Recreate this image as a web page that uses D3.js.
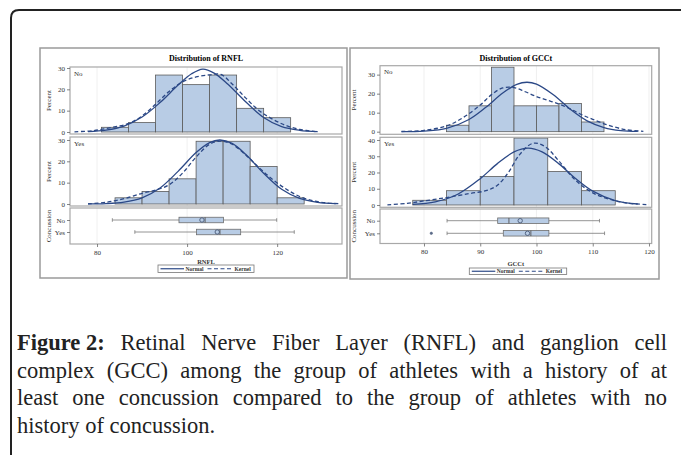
<!DOCTYPE html>
<html>
<head>
<meta charset="utf-8">
<script src="https://cdn.jsdelivr.net/npm/d3@7"></script>
<style>
  body { margin: 0; background: #fff; }
  svg { display: block; }
</style>
</head>
<body>
<svg id="chart" width="681" height="455"></svg>
<script>
// ---- data ----
// histogram percents (bins start at *Start, fixed width)
var rnflNoPct = [2.2, 4.4, 26.7, 22.2, 26.7, 11.1, 6.7];
var rnflNoStart = 81, rnflNoWidth = 6;
var rnflYesPct = [2.9, 5.9, 11.8, 29.4, 29.4, 17.6, 2.9];
var rnflYesStart = 84, rnflYesWidth = 6;
var gccNoPct = [3.4, 13.6, 33.9, 13.6, 13.6, 14.8, 5.1];
var gccNoStart = 84, gccNoWidth = 4;
var gccYesPct = [2.9, 8.8, 17.6, 41.2, 20.6, 8.8];
var gccYesStart = 78, gccYesWidth = 6;

// density curves [value, percent]
var rnflNoNormal = [[78,0.2],[82,0.9],[86,2.8],[90,7.0],[94,13.8],[98,22.0],[101,27.3],[103.5,29.5],[106,27.6],[109,22.5],[113,14.2],[117,6.8],[121,2.5],[125,0.8],[129,0.2]];
var rnflNoKernel = [[75,0.1],[79,0.6],[83,2.0],[87,4.0],[90,7.5],[93,13.0],[96,19.0],[99,23.5],[102,25.8],[105,26.8],[107.5,27.0],[110,22.5],[113,16.0],[116,10.0],[119,6.0],[122,3.0],[125,1.2],[128.5,0.2]];
var rnflYesNormal = [[78,0.05],[82,0.2],[86,0.9],[90,2.9],[94,7.5],[98,15.3],[102,24.1],[105,28.8],[107.3,30],[110,28.4],[113,23.3],[117,14.4],[121,6.9],[125,2.6],[129,0.8],[133,0.2]];
var rnflYesKernel = [[78,0.1],[82,0.8],[86,2.5],[90,5.0],[93,6.5],[96,9.0],[99,14.5],[102,22.0],[105,28.0],[107.5,29.5],[110,28.0],[113,23.0],[116,17.0],[119,11.5],[122,7.0],[125,3.5],[128,1.5],[131,0.5],[134,0.1]];
var gccNoNormal = [[76,0.03],[80,0.3],[84,1.7],[88,6.4],[91,12.8],[94,20.3],[96.5,24.9],[98.3,26],[100,25.0],[103,19.4],[106,11.8],[109,5.7],[112,2.2],[115,0.6],[118,0.15]];
var gccNoKernel = [[76,0.1],[80,0.7],[84,3.0],[87,7.5],[90,14.0],[92,19.5],[94,23.0],[96,23.2],[98,21.0],[100,18.5],[102,16.5],[104,14.5],[106,12.0],[108,9.0],[110,6.5],[113,3.2],[116,1.0],[119,0.2]];
var gccYesNormal = [[78,0.4],[82,1.9],[86,6.6],[90,16.2],[93,25.3],[96,32.7],[98.5,35],[101,32.7],[104,25.3],[107,16.1],[110,8.5],[114,2.7],[118,0.6]];
var gccYesKernel = [[73.5,0.1],[77,1.0],[80,2.5],[84,4.6],[88,7.0],[91,8.8],[93,12.0],[95,20.0],[97,31.0],[99.4,38.0],[101.5,36.0],[104,27.0],[107,15.0],[110,7.5],[113,3.5],[116,1.2],[120,0.2]];

// box plots: min, q1, median, q3, max, mean
var groups = ["No", "Yes"];
var rnflBox = [[83.4, 98.2, 104, 108.1, 119.9, 103.3], [88.4, 102.1, 107.3, 111.9, 123.8, 106.7]];
var gccBox = [[84.1, 93.1, 95.1, 102.2, 111.2, 97.1], [84.1, 94.1, 99.0, 102.2, 112.1, 98.4]];
var gccOutliers = [[], [81.3]];

var rnflTicks = [80, 100, 120];
var gccTicks = [80, 90, 100, 110, 120];
var pctTicks = [0, 10, 20, 30];
var pctTicks40 = [0, 10, 20, 30, 40];

var captionLines = [
  ["Retinal", "Nerve", "Fiber", "Layer", "(RNFL)", "and", "ganglion", "cell"],
  ["complex", "(GCC)", "among", "the", "group", "of", "athletes", "with", "a", "history", "of", "at"],
  ["least", "one", "concussion", "compared", "to", "the", "group", "of", "athletes", "with", "no"],
  ["history", "of", "concussion."]
];

// ---- drawing ----
var svg = d3.select("#chart");
var FONT = "'Liberation Serif', 'DejaVu Serif', serif";
var BAR_FILL = "#b8cce5";
var CURVE = "#2b4886";

// outer figure frame
svg.append("path")
  .attr("d", "M11,455 L11,18 Q11,10 19,10 L681,10")
  .attr("fill", "none")
  .attr("stroke", "#222")
  .attr("stroke-width", 2);

function styleAxis(g) {
  g.select(".domain").remove();
  g.selectAll(".tick line").attr("stroke", "#666").attr("stroke-width", 0.8);
  g.selectAll(".tick text").attr("fill", "#333").style("font-family", FONT).style("font-size", "7px");
}

function drawPanel(p) {
  var g = svg.append("g");
  g.append("rect")
    .attr("x", p.box[0]).attr("y", p.box[1]).attr("width", p.box[2]).attr("height", p.box[3])
    .attr("fill", "#fff").attr("stroke", "#9a9a9a").attr("stroke-width", 1.5);

  g.append("text")
    .attr("x", (p.left + p.right) / 2).attr("y", p.titleY)
    .attr("text-anchor", "middle")
    .style("font-family", FONT).style("font-size", "8px").style("font-weight", "bold")
    .text(p.title);

  var x = d3.scaleLinear().domain(p.xDomain).range([p.left, p.right]);

  p.cells.forEach(function (c) {
    var y = d3.scaleLinear().domain(c.yDomain).range([c.bottom, c.top]);
    var cg = g.append("g");

    // grid
    cg.selectAll("line.grid").data(p.xTicks).enter().append("line")
      .attr("x1", d => x(d)).attr("x2", d => x(d))
      .attr("y1", c.top).attr("y2", c.bottom)
      .attr("stroke", "#ececec").attr("stroke-width", 0.8);

    // bars
    cg.selectAll("rect.bar").data(c.pct).enter().append("rect")
      .attr("x", (d, i) => x(c.start + i * c.width))
      .attr("width", (d, i) => x(c.start + (i + 1) * c.width) - x(c.start + i * c.width))
      .attr("y", d => y(d))
      .attr("height", d => y(0) - y(d))
      .attr("fill", BAR_FILL)
      .attr("stroke", "#5b5b5b")
      .attr("stroke-width", 0.8);

    var line = d3.line()
      .x(d => x(d[0])).y(d => y(d[1]))
      .curve(d3.curveCatmullRom);

    cg.append("path").datum(c.normal)
      .attr("d", line).attr("fill", "none")
      .attr("stroke", CURVE).attr("stroke-width", 1.3);
    cg.append("path").datum(c.kernel)
      .attr("d", line).attr("fill", "none")
      .attr("stroke", CURVE).attr("stroke-width", 1.3)
      .attr("stroke-dasharray", "4,2.5");

    cg.append("rect")
      .attr("x", p.left).attr("y", c.top)
      .attr("width", p.right - p.left).attr("height", c.bottom - c.top)
      .attr("fill", "none").attr("stroke", "#a8a8a8").attr("stroke-width", 1.2);

    cg.append("text")
      .attr("x", p.left + 4).attr("y", c.top + 8.5)
      .style("font-family", FONT).style("font-size", "7px").attr("fill", "#333")
      .text(c.label);

    cg.append("g")
      .attr("transform", "translate(" + p.left + ",0)")
      .call(d3.axisLeft(y).tickValues(c.ticks).tickSize(3).tickPadding(2))
      .call(styleAxis);

    cg.append("text")
      .attr("transform", "translate(" + p.yLabelX + "," + ((c.top + c.bottom) / 2) + ") rotate(-90)")
      .attr("text-anchor", "middle")
      .style("font-family", FONT).style("font-size", "7px").attr("fill", "#333")
      .text("Percent");
  });

  // box plot cell
  var b = p.boxCell;
  var yb = d3.scalePoint().domain(groups).range([b.rowNo, b.rowYes]);
  var bg = g.append("g");
  bg.selectAll("line.grid").data(p.xTicks).enter().append("line")
    .attr("x1", d => x(d)).attr("x2", d => x(d))
    .attr("y1", b.top).attr("y2", b.bottom)
    .attr("stroke", "#ececec").attr("stroke-width", 0.8);

  p.boxes.forEach(function (s, i) {
    var cy = yb(groups[i]);
    var h = 5.5;
    bg.append("line").attr("x1", x(s[0])).attr("x2", x(s[1])).attr("y1", cy).attr("y2", cy)
      .attr("stroke", "#7a7a7a").attr("stroke-width", 0.8);
    bg.append("line").attr("x1", x(s[3])).attr("x2", x(s[4])).attr("y1", cy).attr("y2", cy)
      .attr("stroke", "#7a7a7a").attr("stroke-width", 0.8);
    [s[0], s[4]].forEach(function (v) {
      bg.append("line").attr("x1", x(v)).attr("x2", x(v)).attr("y1", cy - 1.8).attr("y2", cy + 1.8)
        .attr("stroke", "#7a7a7a").attr("stroke-width", 0.8);
    });
    bg.append("rect").attr("x", x(s[1])).attr("y", cy - h / 2)
      .attr("width", x(s[3]) - x(s[1])).attr("height", h)
      .attr("fill", BAR_FILL).attr("stroke", "#6d6d6d").attr("stroke-width", 0.8);
    bg.append("line").attr("x1", x(s[2])).attr("x2", x(s[2])).attr("y1", cy - h / 2).attr("y2", cy + h / 2)
      .attr("stroke", "#555").attr("stroke-width", 0.9);
    bg.append("circle").attr("cx", x(s[5])).attr("cy", cy).attr("r", 2.2)
      .attr("fill", "none").attr("stroke", "#4a5a78").attr("stroke-width", 0.9);
    (p.outliers ? p.outliers[i] : []).forEach(function (v) {
      bg.append("circle").attr("cx", x(v)).attr("cy", cy).attr("r", 1.2)
        .attr("fill", "#5a6a88").attr("stroke", "#5a6a88").attr("stroke-width", 0.6);
    });
  });

  bg.append("rect")
    .attr("x", p.left).attr("y", b.top)
    .attr("width", p.right - p.left).attr("height", b.bottom - b.top)
    .attr("fill", "none").attr("stroke", "#a8a8a8").attr("stroke-width", 1.2);

  bg.append("g")
    .attr("transform", "translate(" + p.left + ",0)")
    .call(d3.axisLeft(yb).tickSize(3).tickPadding(2))
    .call(styleAxis);

  bg.append("text")
    .attr("transform", "translate(" + p.yLabelX + "," + ((b.top + b.bottom) / 2) + ") rotate(-90)")
    .attr("text-anchor", "middle")
    .style("font-family", FONT).style("font-size", "7px").attr("fill", "#333")
    .text("Concussion");

  g.append("g")
    .attr("transform", "translate(0," + b.bottom + ")")
    .call(d3.axisBottom(x).tickValues(p.xTicks).tickSize(3).tickPadding(3))
    .call(styleAxis);

  g.append("text")
    .attr("x", (p.left + p.right) / 2).attr("y", p.xLabelY)
    .attr("text-anchor", "middle")
    .style("font-family", FONT).style("font-size", "6.5px").style("font-weight", "bold").attr("fill", "#333")
    .text(p.xLabel);

  // legend
  var L = p.legend;
  var lg = g.append("g");
  lg.append("rect").attr("x", L.x).attr("y", L.y).attr("width", L.w).attr("height", L.h)
    .attr("fill", "#fff").attr("stroke", "#777").attr("stroke-width", 0.8);
  var cy = L.y + L.h / 2;
  lg.append("line").attr("x1", L.x + 2.5).attr("x2", L.x + 26).attr("y1", cy).attr("y2", cy)
    .attr("stroke", CURVE).attr("stroke-width", 1.2);
  lg.append("text").attr("x", L.x + 27.5).attr("y", cy + 2)
    .style("font-family", FONT).style("font-size", "5.5px").style("font-weight", "bold").attr("fill", "#333")
    .text("Normal");
  lg.append("line").attr("x1", L.x + 49.5).attr("x2", L.x + 73.5).attr("y1", cy).attr("y2", cy)
    .attr("stroke", CURVE).attr("stroke-width", 1.2).attr("stroke-dasharray", "4,2.5");
  lg.append("text").attr("x", L.x + 76.5).attr("y", cy + 2)
    .style("font-family", FONT).style("font-size", "5.5px").style("font-weight", "bold").attr("fill", "#333")
    .text("Kernel");
}

drawPanel({
  box: [40, 48, 307, 230],
  title: "Distribution of RNFL", titleY: 61,
  left: 70, right: 342, xDomain: [74, 134.4], xTicks: rnflTicks,
  yLabelX: 51,
  cells: [
    { top: 67, bottom: 134, yDomain: [-0.94, 30.47], ticks: pctTicks, label: "No",
      pct: rnflNoPct, start: rnflNoStart, width: rnflNoWidth, normal: rnflNoNormal, kernel: rnflNoKernel },
    { top: 137, bottom: 206, yDomain: [-0.94, 31.4], ticks: pctTicks, label: "Yes",
      pct: rnflYesPct, start: rnflYesStart, width: rnflYesWidth, normal: rnflYesNormal, kernel: rnflYesKernel }
  ],
  boxCell: { top: 208, bottom: 244, rowNo: 220, rowYes: 232 },
  boxes: rnflBox,
  xLabel: "RNFL", xLabelY: 264,
  legend: { x: 158, y: 265, w: 96, h: 7.5 }
});

drawPanel({
  box: [350, 48, 309, 231],
  title: "Distribution of GCCt", titleY: 61,
  left: 380, right: 651.7, xDomain: [72.18, 120.48], xTicks: gccTicks,
  yLabelX: 356,
  cells: [
    { top: 65.7, bottom: 134.3, yDomain: [-1.37, 34.7], ticks: pctTicks, label: "No",
      pct: gccNoPct, start: gccNoStart, width: gccNoWidth, normal: gccNoNormal, kernel: gccNoKernel },
    { top: 137.3, bottom: 207.3, yDomain: [-1.42, 41.66], ticks: pctTicks40, label: "Yes",
      pct: gccYesPct, start: gccYesStart, width: gccYesWidth, normal: gccYesNormal, kernel: gccYesKernel }
  ],
  boxCell: { top: 209, bottom: 243.5, rowNo: 220.7, rowYes: 233.3 },
  boxes: gccBox, outliers: gccOutliers,
  xLabel: "GCCt", xLabelY: 265.5,
  legend: { x: 469.3, y: 268, w: 97.4, h: 6.5 }
});

// ---- caption, justified ----
var CAP_X0 = 17, CAP_X1 = 667, CAP_SIZE = 22.5;
var capY = [350, 377.5, 405, 432.5];
var cap = svg.append("g").style("font-family", FONT).style("font-size", CAP_SIZE + "px").attr("fill", "#222");

captionLines.forEach(function (words, li) {
  var items = [];
  if (li === 0) items.push({ t: "Figure 2:", bold: true });
  words.forEach(function (w) { items.push({ t: w, bold: false }); });
  var nodes = items.map(function (it) {
    return cap.append("text").attr("y", capY[li])
      .style("font-weight", it.bold ? "bold" : "normal")
      .text(it.t);
  });
  var widths = nodes.map(function (n) { return n.node().getComputedTextLength(); });
  var total = d3.sum(widths);
  var last = li === captionLines.length - 1;
  var gap = last ? CAP_SIZE * 0.25 : (CAP_X1 - CAP_X0 - total) / (nodes.length - 1);
  var xpos = CAP_X0;
  nodes.forEach(function (n, i) {
    n.attr("x", xpos);
    xpos += widths[i] + gap;
  });
});
</script>
</body>
</html>
